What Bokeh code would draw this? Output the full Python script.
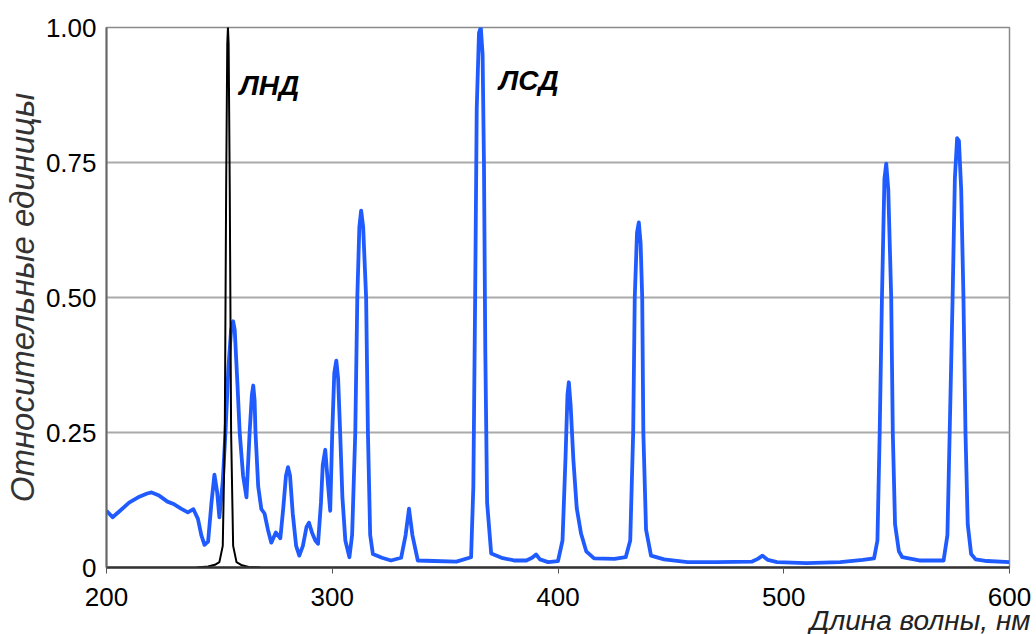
from bokeh.plotting import figure
from bokeh.models import ColumnDataSource, FixedTicker, Label, Range1d, Title
from bokeh.embed import file_html
from bokeh.resources import INLINE

# ---- data ----
blue_wl = [200, 202.7, 206, 210, 214, 218, 220, 223, 227, 230, 233, 236, 238.5, 240.5, 242, 243.4, 245,
           246.5, 247.8, 249, 250, 251.5, 252.7, 254, 255.2, 256.1, 256.8, 258, 259, 260.5, 262,
           263.4, 264.4, 265, 265.6, 266, 267.2, 268.6, 270, 271.5, 273, 275, 277, 278.3, 279.5,
           280.4, 281.3, 282.5, 284, 285.4, 287, 288.6, 289.7, 291, 292.5, 293.7, 295, 295.8, 296.9,
           297.8, 299.1, 300, 300.9, 301.8, 302.6, 303.5, 304.5, 305.8, 307.6, 308.8, 310.2, 311.1,
           312, 312.8, 313.7, 315, 315.8, 316.8, 318, 322, 326, 330.5, 332.5, 334, 335.5, 337.9,
           345, 355, 361.5, 362.5, 363.3, 364, 365, 365.8, 366.6, 367.2, 367.8, 368.6, 370.4, 375,
           380.5, 386, 388.5, 390.3, 392, 395.6, 400, 402, 403.3, 404.2, 404.8, 405.6, 406.8, 408.3,
           410.2, 412.5, 416, 425, 430, 432, 433.3, 434, 435, 435.8, 436.6, 437.3, 437.8, 439, 441.2,
           447, 457.4, 470, 486, 488.5, 490.6, 493, 497, 510, 525, 535, 540, 541.5, 542.5, 543.5,
           544.6, 545.4, 546.3, 547.6, 548.3, 549.3, 551, 552.5, 560, 570.8, 572.5, 573.5, 574.8,
           575.8, 576.8, 577.6, 578.6, 579.6, 580.5, 581.5, 583, 585, 590, 600]
blue_int = [0.105, 0.093, 0.105, 0.12, 0.13, 0.137, 0.139, 0.134, 0.122, 0.117, 0.109, 0.102, 0.108, 0.09, 0.06, 0.042, 0.048,
            0.12, 0.172, 0.14, 0.093, 0.16, 0.25, 0.37, 0.44, 0.456, 0.44, 0.34, 0.25, 0.17, 0.13,
            0.25, 0.32, 0.337, 0.31, 0.25, 0.15, 0.108, 0.10, 0.07, 0.046, 0.065, 0.054, 0.11, 0.17,
            0.186, 0.17, 0.10, 0.04, 0.022, 0.04, 0.075, 0.083, 0.065, 0.05, 0.044, 0.12, 0.19, 0.218,
            0.17, 0.105, 0.25, 0.36, 0.383, 0.35, 0.25, 0.13, 0.05, 0.019, 0.06, 0.25, 0.5,
            0.63, 0.661, 0.63, 0.5, 0.25, 0.06, 0.025, 0.018, 0.013, 0.018, 0.06, 0.109, 0.06, 0.013,
            0.012, 0.011, 0.019, 0.15, 0.5, 0.85, 0.99, 1.0, 0.95, 0.75, 0.4, 0.12, 0.026, 0.018,
            0.013, 0.013, 0.018, 0.024, 0.015, 0.01, 0.012, 0.05, 0.2, 0.32, 0.343, 0.3, 0.2, 0.11,
            0.063, 0.03, 0.017, 0.016, 0.019, 0.05, 0.25, 0.5, 0.62, 0.639, 0.6, 0.5, 0.25, 0.07, 0.022,
            0.015, 0.01, 0.01, 0.011, 0.016, 0.022, 0.014, 0.01, 0.008, 0.01, 0.014, 0.017, 0.05, 0.25, 0.5,
            0.72, 0.748, 0.7, 0.5, 0.25, 0.08, 0.03, 0.019, 0.013, 0.013, 0.06, 0.25, 0.5,
            0.72, 0.795, 0.79, 0.7, 0.5, 0.25, 0.08, 0.025, 0.015, 0.012, 0.01]

black_wl = [240, 245, 248, 250, 251.5, 252.4, 253.0, 253.5, 253.8, 254.1, 254.6, 255.2, 256.1, 257.6, 260, 263, 268]
black_int = [0.0, 0.002, 0.005, 0.01, 0.04, 0.25, 0.7, 0.97, 1.0, 0.97, 0.7, 0.25, 0.04, 0.01, 0.004, 0.001, 0.0]

x_ticks = [200, 300, 400, 500, 600]
y_ticks = [0, 0.25, 0.5, 0.75, 1.0]
y_tick_labels = ["0", "0.25", "0.50", "0.75", "1.00"]

peak_names = ["ЛНД", "ЛСД"]
peak_label_x = [258.9, 373.9]
peak_label_y = [0.893, 0.902]

x_title = "Длина волны, нм"
y_title = "Относительные единицы"

FONT = "Liberation Sans"

p = figure(width=1036, height=634, output_backend="svg", toolbar_location=None,
           x_range=Range1d(200, 600), y_range=Range1d(0, 1.0))
p.min_border_left = 105
p.min_border_right = 27
p.min_border_top = 27
p.min_border_bottom = 67
p.background_fill_color = "white"
p.border_fill_color = "white"
p.outline_line_color = "#8a8a8a"
p.outline_line_width = 1.5

p.xgrid.visible = False
p.ygrid.ticker = FixedTicker(ticks=[0.25, 0.5, 0.75])
p.ygrid.grid_line_color = "#aaaaaa"
p.ygrid.grid_line_width = 2

p.xaxis.ticker = FixedTicker(ticks=x_ticks)
p.xaxis.major_tick_out = 6
p.xaxis.major_tick_in = 0
p.xaxis.minor_tick_line_color = None
p.xaxis.major_tick_line_color = "#555555"
p.xaxis.axis_line_color = "#333333"
p.xaxis.axis_line_width = 2.5
p.xaxis.major_label_text_font = FONT
p.xaxis.major_label_text_font_size = "26px"
p.xaxis.major_label_text_color = "black"
p.xaxis.major_label_standoff = 14

p.yaxis.ticker = FixedTicker(ticks=y_ticks)
p.yaxis.major_label_overrides = {t: l for t, l in zip(y_ticks, y_tick_labels)}
p.yaxis.major_tick_out = 0
p.yaxis.major_tick_in = 0
p.yaxis.minor_tick_line_color = None
p.yaxis.axis_line_color = "#666666"
p.yaxis.axis_line_width = 2
p.yaxis.major_label_text_font = FONT
p.yaxis.major_label_text_font_size = "26px"
p.yaxis.major_label_text_color = "black"
p.yaxis.major_label_standoff = 10
p.yaxis.axis_label = y_title
p.yaxis.axis_label_text_font = FONT
p.yaxis.axis_label_text_font_size = "33px"
p.yaxis.axis_label_text_font_style = "italic"
p.yaxis.axis_label_text_color = "#333333"
p.yaxis.axis_label_standoff = 2

blue_src = ColumnDataSource(dict(x=blue_wl, y=blue_int))
black_src = ColumnDataSource(dict(x=black_wl, y=black_int))
p.line("x", "y", source=blue_src, line_color="#1f5bff", line_width=3.8, line_join="round")
p.line("x", "y", source=black_src, line_color="black", line_width=2, line_join="round")

for name, lx, ly in zip(peak_names, peak_label_x, peak_label_y):
    p.add_layout(Label(x=lx, y=ly, text=name, text_font=FONT, text_font_size="28px",
                       text_font_style="bold italic", text_color="black",
                       text_align="left", text_baseline="middle"))

xt = Title(text=x_title, align="right", offset=-21, standoff=-12, text_font=FONT,
           text_font_size="28px", text_font_style="italic", text_color="#222222")
p.add_layout(xt, "below")

open("out.html", "w").write(file_html(p, INLINE))
